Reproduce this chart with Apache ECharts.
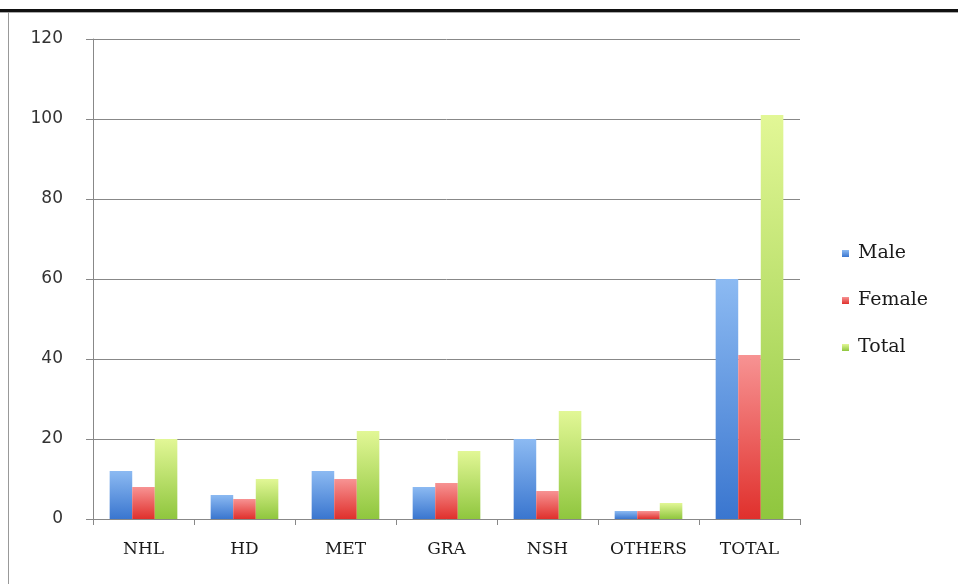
<!DOCTYPE html>
<html>
<head>
<meta charset="utf-8">
<script src="https://cdn.jsdelivr.net/npm/echarts@6/dist/echarts.min.js"></script>
<style>
	html, body { margin: 0; padding: 0; background: #fff; }
	#chartBox { width: 958px; height: 584px; }
</style>
</head>
<body>
<div id="chartBox"></div>
<script>
	// data
	var categories = ['NHL', 'HD', 'MET', 'GRA', 'NSH', 'OTHERS', 'TOTAL'];
	var maleValues = [12, 6, 12, 8, 20, 2, 60];
	var femaleValues = [8, 5, 10, 9, 7, 2, 41];
	var totalValues = [20, 10, 22, 17, 27, 4, 101];

	function grad(top, bottom) {
		return new echarts.graphic.LinearGradient(0, 0, 0, 1, [
			{ offset: 0, color: top },
			{ offset: 1, color: bottom }
		]);
	}

	var myChart = echarts.init(document.getElementById('chartBox'));
	var option = {
		animation: false,
		graphic: [
			// frame lines of the original picture
			{ type: 'rect', left: 0, top: 9, shape: { width: 958, height: 3 }, style: { fill: '#111' } },
			{ type: 'rect', left: 0, top: 12, shape: { width: 958, height: 1 }, style: { fill: '#aaa' } },
			{ type: 'rect', left: 8, top: 12, shape: { width: 1, height: 572 }, style: { fill: '#999' } }
		],
		grid: {
			left: 93,
			right: 158,
			top: 39,
			bottom: 65
		},
		legend: {
			orient: 'vertical',
			left: 837,
			top: 239,
			itemWidth: 7,
			itemHeight: 7,
			itemGap: 28,
			icon: 'rect',
			textStyle: {
				fontFamily: 'DejaVu Serif',
				fontSize: 19,
				color: '#1a1a1a',
				padding: [0, 0, 0, 4]
			},
			data: ['Male', 'Female', 'Total']
		},
		xAxis: {
			type: 'category',
			data: categories,
			axisLine: { lineStyle: { color: '#888', width: 1 } },
			axisTick: { show: true, length: 6, lineStyle: { color: '#888' } },
			axisLabel: {
				margin: 22,
				fontFamily: 'DejaVu Serif',
				fontSize: 17,
				color: '#1a1a1a'
			}
		},
		yAxis: {
			type: 'value',
			min: 0,
			max: 120,
			interval: 20,
			axisLine: { show: true, lineStyle: { color: '#888' } },
			axisTick: { show: true, length: 7, lineStyle: { color: '#888' } },
			splitLine: { lineStyle: { color: '#888', width: 1 } },
			axisLabel: {
				margin: 30,
				fontFamily: 'DejaVu Sans',
				fontSize: 17,
				color: '#333'
			}
		},
		series: [{
				name: 'Male',
				type: 'bar',
				barGap: '0%',
				barCategoryGap: '33%',
				itemStyle: { color: grad('#8cbaf2', '#3a76cf') },
				data: maleValues
			},
			{
				name: 'Female',
				type: 'bar',
				barGap: '0%',
				barCategoryGap: '33%',
				itemStyle: { color: grad('#f79393', '#e0302c') },
				data: femaleValues
			},
			{
				name: 'Total',
				type: 'bar',
				barGap: '0%',
				barCategoryGap: '33%',
				itemStyle: { color: grad('#e2f796', '#8fc63e') },
				data: totalValues
			}
		]
	};
	myChart.setOption(option);
</script>
</body>
</html>
